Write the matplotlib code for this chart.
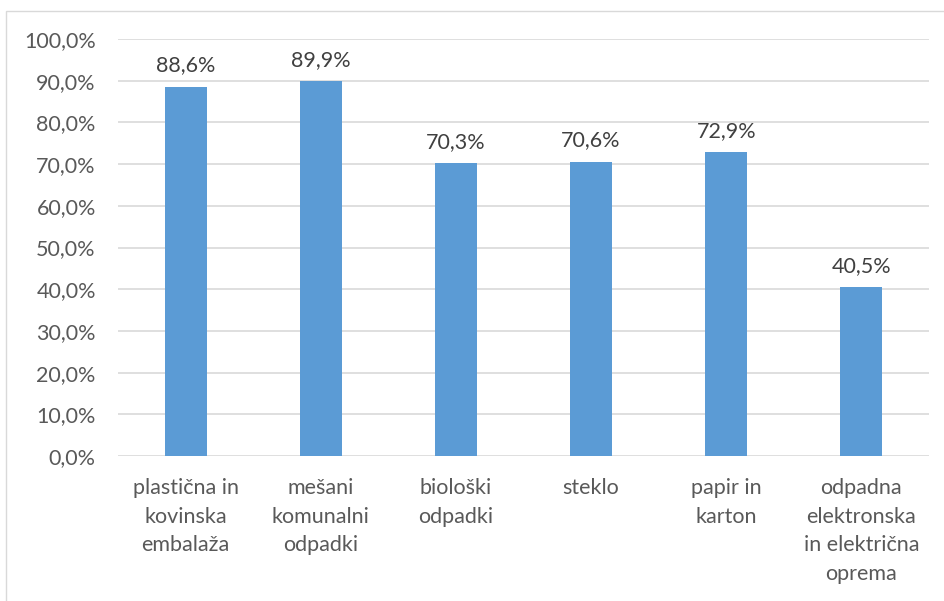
import matplotlib.pyplot as plt
from matplotlib.patches import Rectangle
from matplotlib.ticker import FuncFormatter

categories = ['plastična in\nkovinska\nembalaža', 'mešani\nkomunalni\nodpadki', 'biološki\nodpadki',
              'steklo', 'papir in\nkarton', 'odpadna\nelektronska\nin električna\noprema']
values = [88.6, 89.9, 70.3, 70.6, 72.9, 40.5]
yticks = [0, 10, 20, 30, 40, 50, 60, 70, 80, 90, 100]

plt.rcParams['font.family'] = ['Lato', 'DejaVu Sans']
text_color = '#595959'
bar_color = '#5B9BD5'
fs = 15.5

fig = plt.figure(figsize=(9.45, 6.01), dpi=100)
ax = fig.add_axes([118 / 945, 1 - 456 / 601, (929 - 118) / 945, (456 - 39) / 601])

# outer chart border (like the excel chart area)
fig.patches.append(Rectangle((6.5 / 945, -0.1), 1.2, 1 - 10.5 / 601 + 0.1, transform=fig.transFigure,
                             fill=False, edgecolor='#D9D9D9', linewidth=1))

x = range(len(categories))
bars = ax.bar(x, values, width=0.31, color=bar_color, zorder=3)

for b, v in zip(bars, values):
    ax.annotate(f'{v:.1f}%'.replace('.', ','), (b.get_x() + b.get_width() / 2, v),
                xytext=(0, 8), textcoords='offset points', ha='center', va='bottom',
                fontsize=fs, color='#404040')

ax.set_xlim(-0.5, len(categories) - 0.5)
ax.set_ylim(0, 100)
ax.set_yticks(yticks)
ax.yaxis.set_major_formatter(FuncFormatter(lambda v, p: f'{v:.1f}%'.replace('.', ',')))
ax.set_xticks(list(x))
ax.set_xticklabels(categories, linespacing=1.53)
ax.grid(axis='y', color='#D9D9D9', linewidth=1.2, zorder=0)
ax.tick_params(axis='both', length=0, labelsize=fs, labelcolor=text_color)
ax.tick_params(axis='x', pad=16)
ax.tick_params(axis='y', pad=16)
for s in ax.spines.values():
    s.set_visible(False)

fig.savefig('out.png', dpi=100)
